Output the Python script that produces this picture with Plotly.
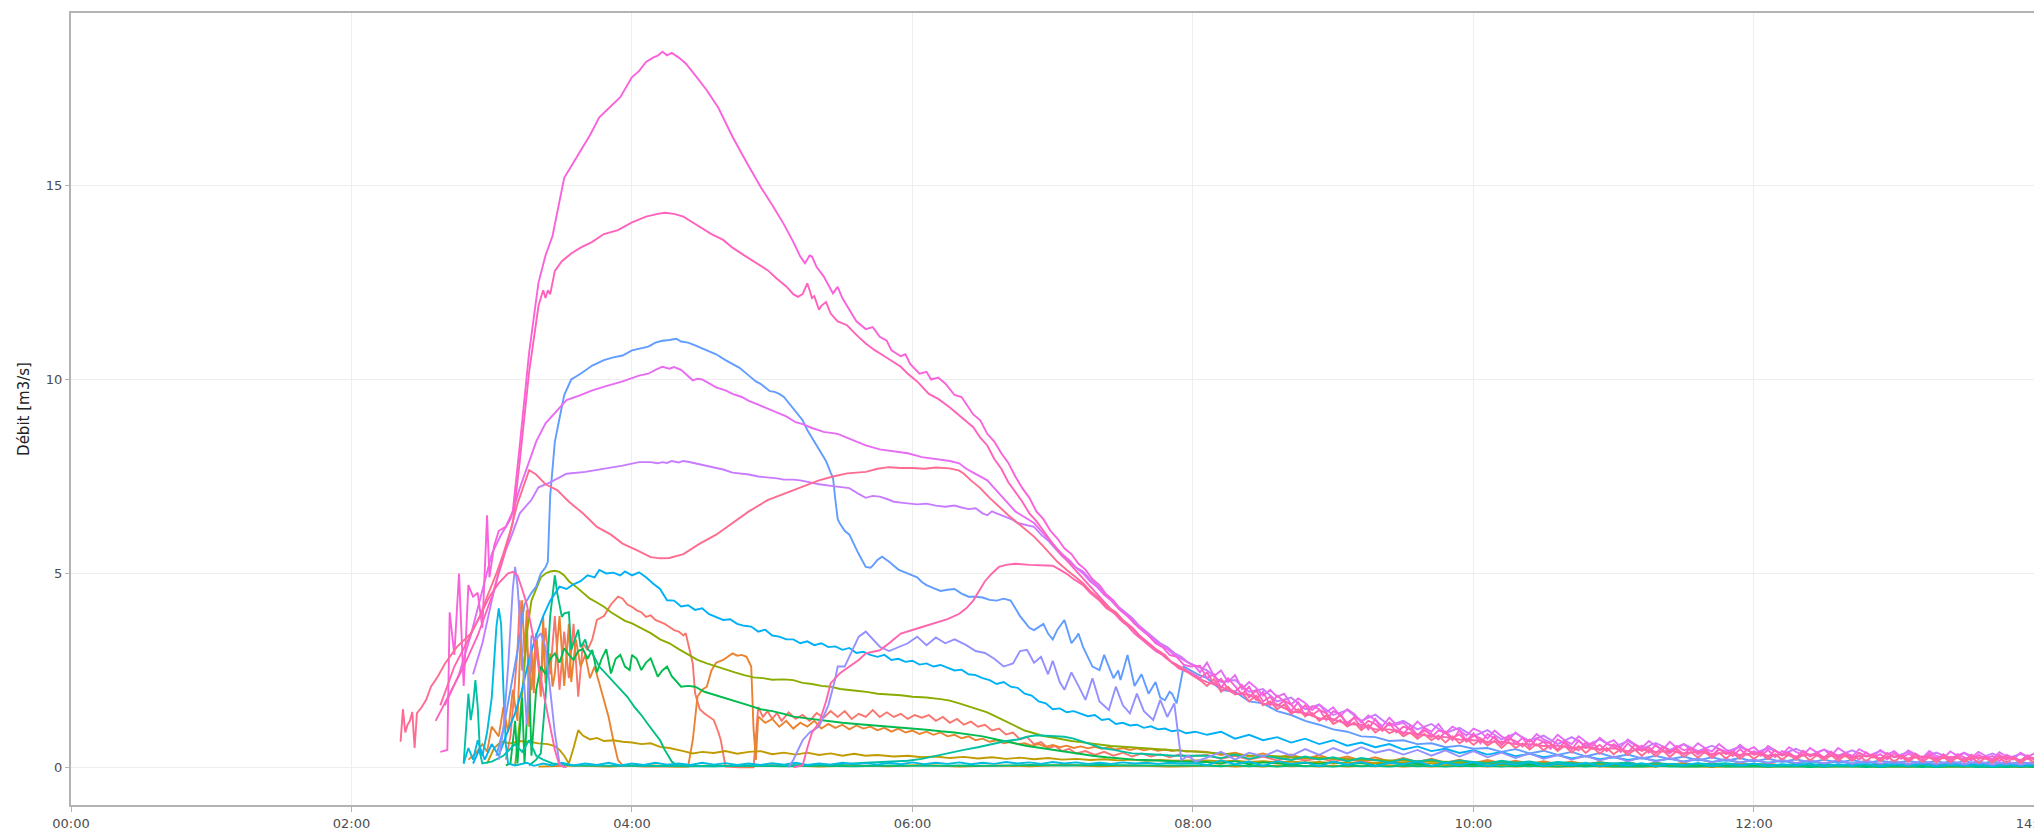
import pandas as pd
import plotly.graph_objects as go

# Discharge hydrographs, one line per gauging station.
# Head sections: (minute of day, discharge m3/s); tails: values on TAIL_T6 / TAIL_T3.
DAY = "2021-06-01"
TAIL_T6 = list(range(486, 859, 6))
TAIL_T3 = list(range(483, 859, 3))

s1_head = [(186,0.2),(188,0.8),(189,1.5),(191,3.0),(192,4.31),(193,2.5),(195,3.2),(197,2.0),(199,3.4),(201,2.2),(203,3.6),(205,2.4),(207,3.9),(209,2.0),(211,3.5),(213,2.3),(215,3.7),(217,1.82),(219,3.2),(221,3.03),(223,3.3),(225,3.8),(228,3.9),(231,4.2),(234,4.4),(236,4.35),(238,4.2),(240,4.14),(242,4.05),(244,4.0),(246,3.88),(248,3.92),(250,3.8),(252,3.75),(254,3.7),(256,3.62),(258,3.54),(260,3.5),(262,3.4),(263,3.46),(265,2.9),(266,2.68),(267,1.91),(269,1.5),(271,1.39),(273,1.3),(275,1.22),(277,0.9),(278,0.7),(280,0.02),(286,0.0),(292,0.0),(294,1.56),(296,1.3),(298,1.45),(300,1.25),(302,1.4),(304,1.2),(307,1.42),(310,1.25),(313,1.35),(316,1.2),(319,1.4),(322,1.28),(325,1.45),(328,1.3),(331,1.45),(334,1.25),(337,1.38),(340,1.3),(343,1.48),(346,1.3),(349,1.42),(352,1.3),(355,1.38),(358,1.25),(361,1.35),(364,1.28),(367,1.35),(370,1.2),(373,1.3),(376,1.15),(379,1.25),(382,1.1),(385,1.18),(388,1.05),(391,1.1),(394,0.95),(397,1.0),(400,0.85),(403,0.9),(406,0.72),(409,0.78),(412,0.6),(415,0.65),(418,0.5),(421,0.55),(424,0.42),(427,0.48),(430,0.36),(434,0.42),(438,0.32),(442,0.4),(446,0.3),(450,0.38),(454,0.28),(458,0.36),(462,0.28),(466,0.34),(470,0.26),(474,0.33),(478,0.27),(481,0.3)]
s1_tail = [.32,.22,.3,.2,.28,.18,.26,.17,.24,.15,.22,.14,.2,.13,.19,.12,.17,.11,.16,.1,.15,.1,.14,.09,.13,.08,.12,.08,.11,.07,.11,.07,.1,.06,.1,.06,.09,.06,.09,.05,.08,.05,.08,.05,.08,.04,.07,.04,.07,.04,.07,.04,.06,.04,.06,.03,.06,.03,.06,.03,.05,.03,.05]

o1_head = [(170,0.2),(173,0.35),(176,0.6),(178,0.4),(180,1.05),(183,0.8),(185,1.56),(187,0.9),(189,2.0),(191,1.2),(193,4.31),(194,2.94),(195,4.06),(196,1.05),(197,3.11),(198,1.91),(199,3.46),(201,1.82),(202,3.88),(203,2.17),(205,2.94),(206,2.08),(207,2.42),(209,3.9),(211,2.1),(213,3.7),(214,2.2),(216,3.3),(218,2.6),(220,2.9),(222,2.3),(224,2.6),(226,2.17),(228,1.74),(230,1.3),(232,0.7),(234,0.19),(236,0.05),(245,0.02),(255,0.03),(264,0.02),(266,0.7),(267,1.2),(268,1.82),(270,2.0),(272,2.08),(274,2.5),(276,2.7),(279,2.77),(281,2.85),(283,2.94),(285,2.88),(287,2.9),(289,2.85),(291,2.6),(292,1.0),(293,0.19),(294,1.31),(297,1.15),(300,1.25),(303,1.05),(306,1.2),(309,1.0),(312,1.15),(315,1.05),(318,1.2),(321,1.0),(324,1.12),(327,1.02),(330,1.1),(333,0.98),(336,1.08),(339,1.0),(342,1.05),(345,0.96),(348,1.02),(351,0.92),(354,1.0),(357,0.9),(360,0.95),(363,0.86),(366,0.92),(369,0.84),(372,0.9),(375,0.8),(378,0.84),(381,0.75),(384,0.8),(387,0.7),(390,0.74),(393,0.66),(396,0.7),(399,0.62),(402,0.66),(405,0.6),(408,0.62),(411,0.56),(414,0.6),(417,0.53),(420,0.58),(423,0.52),(426,0.56),(429,0.5),(432,0.54),(435,0.49),(438,0.53),(441,0.48),(444,0.52),(447,0.46),(450,0.5),(453,0.45),(456,0.49),(459,0.44),(462,0.48),(465,0.43),(468,0.46),(471,0.42),(474,0.45),(477,0.41),(481,0.42)]
o1_tail = [.4,.32,.38,.28,.36,.25,.33,.22,.31,.2,.28,.17,.26,.15,.24,.14,.22,.12,.2,.11,.19,.1,.17,.09,.16,.08,.15,.07,.14,.07,.13,.06,.12,.06,.12,.05,.11,.05,.1,.05,.1,.04,.09,.04,.09,.04,.08,.03,.08,.03,.08,.03,.07,.03,.07,.03,.07,.02,.06,.02,.06,.02,.06]

z1_head = [(200,0.02),(215,0.05),(230,0.02),(245,0.06),(260,0.02),(275,0.05),(290,0.03),(305,0.06),(320,0.02),(335,0.05),(350,0.03),(365,0.06),(380,0.02),(395,0.05),(410,0.03),(425,0.06),(440,0.03),(455,0.05),(470,0.02),(481,0.04)]
z1_tail = [.03,.05,.02,.04,.02,.05,.03,.04,.02,.05,.02,.04,.03,.05,.02,.04,.02,.04,.03,.04,.02,.04,.02,.04,.02,.03,.02,.04,.02,.03,.02,.03,.02,.04,.02,.03,.01,.03,.02,.03,.01,.03,.02,.03,.01,.03,.02,.03,.01,.02,.01,.03,.01,.02,.01,.03,.01,.02,.01,.02,.01,.02,.01]

l1_head = [(178,0.1),(181,0.5),(184,0.66),(188,0.62),(192,0.68),(196,0.66),(200,0.62),(204,0.6),(207,0.55),(209,0.45),(211,0.3),(213,0.1),(215,0.5),(217,0.96),(219,0.82),(222,0.72),(225,0.76),(228,0.68),(232,0.7),(236,0.66),(240,0.64),(244,0.6),(248,0.62),(252,0.53),(256,0.5),(259,0.45),(262,0.42),(266,0.36),(270,0.4),(275,0.37),(280,0.42),(285,0.35),(290,0.4),(295,0.42),(300,0.34),(305,0.38),(310,0.33),(315,0.38),(320,0.32),(325,0.36),(330,0.3),(335,0.35),(340,0.3),(345,0.32),(352,0.28),(358,0.3),(364,0.26),(370,0.28),(376,0.24),(382,0.27),(388,0.23),(394,0.26),(400,0.22),(406,0.25),(412,0.21),(418,0.24),(424,0.2),(430,0.22),(436,0.19),(442,0.21),(448,0.18),(454,0.2),(460,0.17),(466,0.19),(472,0.17),(481,0.18)]
l1_tail = [.18,.15,.17,.14,.16,.13,.15,.12,.14,.11,.13,.11,.12,.1,.12,.09,.11,.09,.1,.08,.1,.08,.09,.07,.09,.07,.08,.07,.08,.06,.08,.06,.07,.06,.07,.05,.07,.05,.06,.05,.06,.05,.06,.04,.06,.04,.05,.04,.05,.04,.05,.04,.05,.03,.05,.03,.04,.03,.04,.03,.04,.03,.04]

g1_head = [(190,0.05),(192,1.2),(194,2.6),(195,3.46),(197,4.3),(199,4.6),(201,4.9),(203,5.0),(205,5.05),(207,5.07),(209,5.04),(211,4.95),(213,4.8),(216,4.66),(219,4.5),(222,4.35),(225,4.25),(228,4.14),(231,4.0),(234,3.9),(237,3.78),(240,3.71),(244,3.58),(248,3.46),(252,3.3),(256,3.2),(260,3.05),(264,2.9),(268,2.77),(272,2.68),(276,2.6),(280,2.51),(284,2.45),(288,2.38),(292,2.32),(296,2.3),(300,2.26),(305,2.27),(309,2.25),(313,2.18),(317,2.15),(321,2.1),(325,2.08),(329,2.02),(333,2.0),(337,1.97),(341,1.94),(345,1.9),(350,1.88),(355,1.86),(360,1.82),(366,1.8),(372,1.76),(376,1.72),(380,1.65),(384,1.58),(388,1.5),(392,1.42),(396,1.3),(400,1.18),(404,1.05),(408,0.95),(412,0.88),(416,0.81),(420,0.77),(424,0.72),(428,0.68),(432,0.65),(436,0.62),(440,0.58),(445,0.55),(450,0.53),(455,0.51),(460,0.49),(465,0.47),(470,0.45),(475,0.42),(481,0.4)]
g1_tail = [.37,.35,.34,.31,.3,.28,.27,.25,.24,.22,.21,.2,.19,.18,.17,.16,.15,.15,.14,.13,.13,.12,.12,.11,.11,.1,.1,.1,.09,.09,.09,.08,.08,.08,.08,.07,.07,.07,.07,.07,.06,.06,.06,.06,.06,.06,.05,.05,.05,.05,.05,.05,.05,.05,.04,.04,.04,.04,.04,.04,.04,.04,.04]

g2_head = [(186,0.05),(188,0.1),(190,1.2),(191,0.1),(193,1.8),(194,0.1),(196,2.3),(197,0.3),(199,2.0),(201,2.6),(203,2.4),(205,2.8),(207,2.94),(209,2.7),(211,3.07),(213,2.9),(215,2.77),(217,3.0),(219,3.05),(221,2.8),(223,3.03),(225,2.45),(227,2.8),(229,3.05),(231,2.42),(233,2.8),(235,2.9),(237,2.6),(239,2.51),(240,2.9),(242,2.8),(244,2.51),(246,2.7),(248,2.81),(250,2.5),(251,2.34),(253,2.5),(255,2.6),(257,2.35),(259,2.2),(261,2.08),(264,2.1),(267,2.08),(271,1.95),(275,1.88),(280,1.78),(285,1.7),(290,1.6),(295,1.5),(300,1.45),(305,1.38),(309,1.31),(314,1.27),(319,1.23),(324,1.18),(330,1.15),(336,1.12),(342,1.09),(348,1.06),(354,1.04),(360,1.0),(366,0.97),(372,0.93),(378,0.9),(384,0.85),(390,0.8),(396,0.72),(403,0.62),(409,0.55),(415,0.5),(420,0.45),(425,0.4),(431,0.35),(437,0.3),(443,0.26),(450,0.22),(455,0.2),(460,0.19),(465,0.17),(470,0.16),(475,0.15),(481,0.14)]
g2_tail = [.14,.1,.16,.08,.13,.11,.06,.12,.09,.14,.07,.11,.05,.12,.08,.1,.04,.11,.07,.09,.04,.1,.06,.08,.03,.09,.06,.07,.03,.08,.05,.07,.02,.08,.05,.06,.02,.07,.04,.06,.02,.06,.04,.05,.02,.06,.03,.05,.01,.05,.03,.05,.01,.04,.03,.05,.01,.04,.02,.04,.01,.04,.02]

t1_head = [(196,0.05),(199,0.2),(201,0.36),(203,1.8),(205,3.9),(207,4.95),(208,4.5),(209,4.23),(210,3.88),(211,3.97),(213,4.0),(214,3.03),(215,3.2),(216,3.4),(217,3.55),(218,3.1),(220,3.3),(221,3.05),(223,2.94),(226,2.6),(229,2.4),(232,2.2),(235,2.0),(238,1.82),(241,1.56),(244,1.35),(247,1.1),(250,0.85),(252,0.7),(254,0.45),(255,0.36),(257,0.15),(259,0.06),(265,0.04),(275,0.03),(290,0.05),(305,0.03),(320,0.04),(335,0.03),(350,0.05),(365,0.04),(380,0.05),(395,0.04),(410,0.06),(425,0.05),(440,0.06),(455,0.05),(470,0.06),(481,0.05)]
t1_tail = [.05,.03,.06,.03,.05,.02,.05,.03,.04,.02,.05,.03,.04,.02,.05,.03,.04,.02,.04,.03,.04,.02,.04,.03,.04,.02,.04,.02,.04,.02,.03,.02,.04,.02,.03,.02,.04,.02,.03,.02,.03,.02,.03,.01,.03,.02,.03,.01,.03,.02,.03,.01,.03,.02,.03,.01,.02,.01,.03,.01,.02,.01,.02]

t2_head = [(168,0.1),(170,1.9),(171,1.22),(172,1.6),(173,2.25),(174,1.56),(175,0.36),(176,0.1),(180,0.15),(185,0.3),(190,0.6),(193,0.4),(196,0.7),(199,0.3),(202,0.2),(206,0.1),(215,0.05),(230,0.04),(250,0.03),(270,0.03),(290,0.04),(310,0.05),(325,0.07),(340,0.12),(350,0.14),(358,0.17),(364,0.22),(370,0.3),(376,0.38),(382,0.45),(388,0.52),(394,0.6),(400,0.68),(405,0.72),(409,0.79),(413,0.83),(418,0.81),(422,0.8),(425,0.79),(429,0.74),(433,0.66),(437,0.56),(441,0.5),(446,0.45),(450,0.4),(454,0.36),(458,0.35),(462,0.33),(467,0.32),(472,0.3),(477,0.31),(481,0.3)]
t2_tail = [.3,.24,.33,.22,.3,.25,.19,.28,.2,.26,.16,.24,.18,.13,.22,.15,.2,.12,.18,.14,.1,.17,.12,.15,.09,.14,.11,.08,.13,.1,.12,.07,.11,.09,.06,.1,.08,.11,.06,.09,.07,.05,.09,.06,.08,.04,.08,.06,.05,.08,.05,.07,.04,.07,.05,.03,.06,.05,.06,.03,.06,.04,.05]

c1_head = [(168,0.1),(170,0.5),(172,0.2),(174,0.7),(176,0.3),(178,0.9),(180,1.8),(181,2.6),(182,3.63),(183,4.1),(184,3.7),(185,2.0),(186,0.6),(187,0.1),(190,0.05),(195,0.12),(198,0.04),(202,0.1),(206,0.05),(210,0.12),(215,0.05),(220,0.1),(225,0.06),(230,0.12),(235,0.05),(240,0.1),(245,0.06),(250,0.12),(255,0.07),(260,0.1),(265,0.06),(270,0.12),(275,0.07),(280,0.11),(285,0.06),(290,0.1),(295,0.06),(300,0.11),(305,0.07),(310,0.12),(315,0.06),(320,0.1),(325,0.07),(330,0.12),(335,0.08),(340,0.11),(345,0.07),(350,0.12),(355,0.08),(360,0.13),(365,0.08),(370,0.12),(375,0.09),(380,0.13),(385,0.08),(390,0.12),(395,0.09),(400,0.14),(405,0.1),(410,0.13),(415,0.09),(420,0.14),(425,0.1),(430,0.13),(435,0.09),(440,0.12),(445,0.09),(450,0.13),(455,0.1),(460,0.12),(465,0.09),(470,0.12),(475,0.1),(481,0.11)]
c1_tail = [.06,.18,.08,.15,.04,.16,.09,.13,.03,.15,.07,.14,.03,.12,.08,.15,.04,.12,.06,.13,.03,.11,.07,.13,.04,.1,.06,.12,.03,.1,.05,.11,.03,.09,.06,.11,.03,.09,.05,.1,.03,.08,.05,.1,.02,.08,.04,.09,.02,.08,.04,.09,.02,.07,.04,.08,.02,.07,.03,.08,.02,.07,.03]

b2_head = [(172,0.1),(175,0.5),(177,0.2),(180,0.6),(183,0.3),(186,0.8),(190,1.4),(193,2.0),(196,2.8),(199,3.4),(202,3.9),(205,4.3),(209,4.66),(212,4.6),(215,4.72),(218,4.8),(221,4.95),(224,4.9),(226,5.09),(229,5.0),(232,5.02),(235,4.95),(237,5.05),(240,4.95),(243,5.03),(246,4.9),(249,4.74),(252,4.6),(255,4.31),(258,4.3),(261,4.15),(264,4.18),(267,4.06),(270,4.1),(273,3.95),(276,3.88),(279,3.8),(282,3.82),(285,3.7),(288,3.65),(291,3.63),(294,3.5),(297,3.55),(300,3.4),(303,3.37),(306,3.3),(309,3.3),(312,3.2),(315,3.25),(318,3.15),(321,3.2),(324,3.1),(327,3.12),(330,3.03),(333,3.08),(336,2.95),(339,2.98),(342,2.9),(345,2.85),(348,2.9),(351,2.77),(354,2.8),(357,2.72),(360,2.75),(363,2.65),(366,2.68),(369,2.6),(372,2.64),(375,2.58),(378,2.5),(381,2.52),(384,2.4),(387,2.38),(390,2.3),(393,2.25),(396,2.15),(399,2.2),(402,2.08),(405,2.05),(408,1.9),(411,1.85),(414,1.7),(417,1.65),(420,1.5),(423,1.52),(426,1.42),(429,1.45),(432,1.38),(435,1.32),(438,1.35),(441,1.22),(444,1.25),(447,1.12),(450,1.15),(453,1.08),(456,1.1),(459,1.02),(462,1.06),(465,0.98),(468,1.0),(471,0.93),(474,0.96),(477,0.88),(481,0.92)]
b2_tail = [.84,.92,.74,.84,.7,.78,.64,.74,.6,.7,.56,.64,.52,.6,.46,.54,.42,.48,.37,.44,.33,.4,.29,.35,.26,.32,.23,.29,.21,.26,.19,.24,.17,.22,.15,.21,.14,.19,.13,.18,.12,.17,.11,.16,.1,.15,.1,.14,.09,.14,.09,.13,.08,.12,.08,.12,.07,.11,.07,.11,.07,.1,.07]

b1_head = [(182,0.3),(185,1.0),(188,2.0),(191,3.0),(194,4.2),(197,4.5),(199,4.66),(201,5.0),(203,5.16),(204,5.3),(205,7.0),(207,8.4),(209,9.0),(211,9.6),(214,10.0),(218,10.15),(223,10.36),(228,10.5),(232,10.57),(236,10.62),(240,10.75),(243,10.79),(247,10.85),(250,10.95),(253,11.0),(256,11.02),(259,11.05),(261,10.98),(264,10.95),(267,10.88),(269,10.83),(272,10.75),(276,10.65),(280,10.5),(283,10.41),(286,10.3),(290,10.1),(293,9.95),(295,9.89),(297,9.8),(299,9.7),(301,9.68),(303,9.63),(305,9.55),(307,9.4),(310,9.2),(313,8.95),(315,8.7),(317,8.5),(319,8.33),(321,8.1),(323,7.9),(325,7.6),(326,7.47),(327,6.9),(328,6.4),(329,6.28),(331,6.1),(333,6.0),(335,5.75),(337,5.5),(340,5.17),(342,5.15),(343,5.2),(345,5.35),(347,5.43),(349,5.35),(350,5.3),(352,5.2),(354,5.1),(356,5.05),(358,5.0),(360,4.95),(362,4.9),(364,4.78),(366,4.7),(369,4.62),(372,4.55),(375,4.58),(378,4.6),(381,4.48),(384,4.4),(387,4.4),(390,4.38),(393,4.32),(396,4.3),(399,4.35),(402,4.3),(404,4.1),(406,3.9),(408,3.75),(410,3.6),(412,3.54),(414,3.62),(416,3.7),(418,3.45),(420,3.3),(422,3.55),(425,3.8),(427,3.4),(428,3.2),(430,3.35),(431,3.45),(433,3.1),(435,2.85),(437,2.6),(440,2.51),(442,2.9),(444,2.6),(446,2.3),(448,2.5),(449,2.25),(452,2.9),(454,2.4),(455,2.1),(458,2.4),(460,2.1),(461,1.9),(464,2.2),(466,1.8),(468,1.73),(470,1.95),(471,1.9),(473,1.65),(476,2.6),(479,2.5),(482,2.4)]
b1_tail = [2.3,2.0,1.95,1.7,1.65,1.45,1.35,1.2,1.1,.98,.92,.8,.78,.68,.7,.6,.62,.52,.56,.48,.5,.4,.47,.36,.43,.32,.4,.28,.37,.26,.33,.23,.3,.21,.28,.18,.26,.17,.24,.15,.23,.14,.21,.13,.2,.12,.19,.11,.18,.1,.17,.1,.16,.09,.16,.09,.15,.08,.14,.08,.14,.07,.13]

l2_head = [(183,0.2),(185,1.0),(187,2.6),(189,4.6),(190,5.17),(191,4.7),(193,3.0),(195,1.1),(197,3.4),(199,3.3),(201,3.46),(203,3.1),(205,2.0),(207,0.88),(209,0.1),(211,0.0),(240,None),(307,0.0),(309,0.19),(313,0.7),(316,0.9),(320,1.05),(324,1.6),(327,2.3),(328,2.6),(331,2.6),(334,3.0),(337,3.37),(340,3.5),(343,3.3),(346,3.11),(350,3.0),(354,3.1),(358,3.2),(362,3.37),(366,3.15),(370,3.35),(374,3.2),(378,3.3),(383,3.15),(387,3.0),(391,2.95),(395,2.8),(399,2.6),(403,2.68),(406,3.0),(409,3.03),(412,2.7),(415,2.85),(418,2.4),(420,2.75),(423,2.2),(425,2.0),(428,2.45),(431,2.1),(434,1.74),(437,2.3),(440,1.7),(444,1.48),(447,2.08),(450,1.6),(453,1.39),(456,1.9),(459,1.45),(463,1.22),(466,1.74),(469,1.3),(472,1.65),(475,0.19),(478,0.3),(481,0.15)]
l2_tail = [.25,.4,.2,.38,.28,.44,.3,.47,.32,.5,.36,.52,.38,.46,.33,.45,.3,.44,.28,.42,.26,.38,.24,.36,.22,.32,.2,.3,.18,.28,.16,.26,.15,.24,.14,.23,.13,.22,.12,.21,.11,.2,.11,.19,.1,.19,.09,.18,.09,.17,.08,.17,.08,.16,.08,.16,.07,.15,.07,.15,.07,.14,.07]

p4_head = [(172,2.4),(176,3.2),(180,4.3),(184,5.3),(188,5.9),(192,6.55),(197,6.9),(200,7.22),(205,7.35),(212,7.57),(220,7.62),(229,7.7),(236,7.78),(243,7.87),(248,7.87),(251,7.84),(253,7.87),(255,7.85),(257,7.9),(260,7.86),(262,7.9),(264,7.88),(267,7.84),(269,7.82),(272,7.78),(275,7.75),(279,7.68),(283,7.6),(287,7.58),(290,7.55),(294,7.5),(298,7.48),(302,7.45),(305,7.42),(309,7.42),(312,7.4),(316,7.35),(320,7.3),(326,7.25),(333,7.2),(337,7.05),(340,6.95),(343,7.0),(346,6.98),(350,6.9),(352,6.85),(356,6.82),(362,6.78),(366,6.8),(370,6.75),(374,6.72),(378,6.75),(381,6.7),(384,6.66),(387,6.68),(390,6.55),(392,6.5),(394,6.6),(396,6.55),(398,6.5),(400,6.45),(403,6.38),(405,6.3),(409,6.25),(412,6.2),(415,6.0),(418,5.85),(421,5.65),(424,5.45),(427,5.3),(430,5.15),(433,5.05),(436,4.85),(439,4.7),(442,4.5),(445,4.35),(448,4.15),(451,4.0),(454,3.85),(457,3.65),(460,3.5),(463,3.35),(466,3.2),(469,3.1),(472,2.95),(475,2.85),(478,2.7),(482,2.6)]
p4_tail = [2.5,2.2,2.25,1.95,2.02,1.7,1.8,1.5,1.62,1.35,1.48,1.2,1.36,1.08,1.2,.98,1.12,.88,1.02,.8,.96,.72,.88,.68,.82,.6,.78,.56,.72,.52,.68,.48,.63,.45,.6,.42,.56,.4,.53,.36,.5,.34,.48,.31,.46,.3,.44,.28,.42,.26,.4,.25,.38,.23,.37,.22,.36,.21,.35,.2,.33,.19,.32]

p3_head = [(160,1.6),(166,2.4),(171,3.4),(176,4.6),(180,5.5),(184,6.0),(188,6.4),(192,7.2),(195,7.7),(199,8.4),(203,8.87),(208,9.2),(212,9.47),(218,9.6),(223,9.72),(230,9.85),(236,9.95),(243,10.1),(247,10.15),(250,10.25),(253,10.33),(256,10.28),(258,10.32),(261,10.25),(264,10.1),(266,9.98),(268,10.02),(270,10.0),(273,9.9),(276,9.8),(280,9.72),(283,9.63),(287,9.55),(290,9.45),(294,9.35),(298,9.25),(302,9.15),(306,9.05),(310,8.9),(313,8.85),(317,8.75),(322,8.65),(328,8.6),(334,8.45),(340,8.3),(346,8.2),(352,8.15),(358,8.1),(364,8.0),(370,7.95),(376,7.9),(380,7.84),(383,7.7),(386,7.6),(389,7.5),(392,7.4),(395,7.2),(398,7.0),(401,6.8),(404,6.6),(408,6.45),(412,6.3),(415,6.1),(418,5.9),(421,5.7),(424,5.5),(427,5.35),(430,5.15),(433,5.0),(436,4.8),(439,4.65),(442,4.45),(445,4.3),(448,4.1),(451,3.95),(454,3.8),(457,3.6),(460,3.45),(463,3.3),(466,3.15),(469,3.05),(472,2.9),(475,2.8),(478,2.7),(481,2.6)]
p3_tail = [2.45,2.7,2.35,2.5,2.2,2.38,2.02,2.2,2.05,1.85,
           2.0,1.82,1.9,1.62,1.78,1.66,1.48,1.62,1.42,1.55,
           1.32,1.5,1.38,1.16,1.34,1.22,1.06,1.28,1.1,1.15,
           .98,1.18,1.02,.92,1.12,.88,1.05,.95,.82,1.0,
           .92,.74,.95,.8,.7,.9,.76,.66,.86,.72,
           .64,.84,.7,.6,.8,.66,.56,.76,.62,.7,
           .52,.72,.6,.5,.68,.55,.46,.66,.5,.6,
           .44,.62,.5,.41,.6,.46,.4,.58,.44,.52,
           .36,.55,.44,.33,.52,.4,.32,.5,.38,.46,
           .3,.5,.38,.28,.47,.36,.27,.45,.33,.42,
           .26,.44,.34,.24,.42,.3,.23,.41,.3,.38,
           .24,.4,.3,.21,.39,.28,.2,.38,.27,.36,
           .21,.37,.27,.19,.36,.26]

p1_head = [(158,0.4),(161,0.45),(162,4.0),(164,2.9),(166,5.0),(168,2.1),(170,4.7),(172,4.4),(174,4.5),(176,3.6),(178,6.5),(179,4.9),(181,5.7),(183,6.1),(186,6.2),(189,6.6),(192,8.3),(196,10.7),(200,12.5),(203,13.2),(206,13.7),(209,14.6),(211,15.2),(214,15.5),(218,15.9),(222,16.3),(226,16.76),(230,17.0),(235,17.28),(240,17.8),(243,17.95),(246,18.19),(249,18.3),(251,18.35),(253,18.45),(255,18.36),(257,18.42),(260,18.3),(263,18.15),(267,17.85),(272,17.46),(277,17.0),(283,16.26),(289,15.6),(295,14.97),(300,14.5),(305,14.0),(309,13.55),(312,13.17),(314,13.0),(316,13.2),(317,13.17),(319,12.9),(322,12.66),(324,12.45),(326,12.22),(328,12.39),(330,12.1),(333,11.8),(336,11.5),(340,11.3),(343,11.35),(346,11.1),(349,11.0),(351,10.75),(355,10.6),(357,10.65),(359,10.4),(363,10.15),(366,10.2),(368,10.0),(371,10.05),(374,9.9),(378,9.6),(381,9.55),(383,9.38),(386,9.1),(389,8.95),(392,8.6),(395,8.4),(398,8.1),(401,7.85),(404,7.5),(407,7.2),(410,6.95),(413,6.6),(416,6.4),(419,6.1),(422,5.9),(425,5.65),(428,5.5),(431,5.25),(434,5.1),(437,4.85),(440,4.7),(443,4.45),(446,4.3),(449,4.05),(452,3.9),(455,3.7),(458,3.55),(461,3.4),(464,3.2),(467,3.1),(470,2.9),(473,2.85),(476,2.65),(479,2.6)]
p1_tail = [2.62,2.3,2.4,2.05,2.3,2.1,1.88,2.08,1.75,1.95,
           1.6,1.85,1.7,1.45,1.68,1.32,1.58,1.5,1.22,1.45,
           1.38,1.08,1.3,1.2,.98,1.25,.95,1.15,1.05,.85,
           1.08,.82,1.02,.78,.95,.9,.7,.96,.68,.88,
           .62,.86,.75,.58,.82,.6,.76,.52,.74,.66,
           .48,.72,.62,.45,.7,.5,.64,.44,.6,.56,
           .4,.62,.46,.56,.38,.58,.42,.36,.55,.44,
           .5,.33,.48,.3,.46,.4,.29,.47,.32,.42,
           .3,.45,.26,.42,.35,.24,.43,.28,.38,.25,
           .4,.22,.36,.3,.2,.39,.25,.34,.2,.37,
           .22,.35,.28,.18,.36,.24,.31,.17,.34,.26,
           .18,.33,.22,.3,.16,.32,.25,.17,.31,.2,
           .28,.16,.3,.22,.15,.29]

p2_head = [(156,1.2),(162,1.9),(168,2.6),(174,3.4),(180,4.4),(185,5.4),(189,6.3),(192,7.9),(196,10.2),(200,11.9),(202,12.3),(203,12.1),(204,12.3),(205,12.2),(207,12.8),(210,13.05),(214,13.25),(218,13.4),(223,13.55),(228,13.75),(234,13.85),(240,14.05),(246,14.2),(251,14.27),(254,14.3),(258,14.27),(262,14.2),(266,14.05),(269,13.94),(274,13.75),(279,13.6),(283,13.4),(288,13.2),(293,13.0),(298,12.82),(302,12.6),(306,12.4),(309,12.2),(311,12.13),(313,12.2),(315,12.48),(316,12.3),(317,12.1),(318,12.15),(319,11.95),(320,11.8),(321,11.9),(323,12.0),(325,11.7),(328,11.5),(332,11.4),(336,11.15),(340,10.93),(344,10.75),(348,10.6),(352,10.45),(355,10.33),(358,10.15),(362,9.95),(367,9.63),(371,9.5),(376,9.28),(381,9.02),(386,8.77),(389,8.5),(392,8.3),(395,7.95),(398,7.7),(401,7.35),(404,7.1),(407,6.85),(410,6.55),(413,6.35),(416,6.1),(419,5.85),(422,5.6),(425,5.4),(428,5.2),(431,5.0),(434,4.8),(437,4.6),(440,4.4),(443,4.2),(446,4.0),(449,3.8),(452,3.65),(455,3.45),(458,3.3),(461,3.15),(464,3.0),(467,2.9),(470,2.75),(473,2.65),(476,2.55),(479,2.45)]
p2_tail = [2.3,2.45,2.15,2.28,2.02,1.95,2.12,1.8,1.98,1.7,
           1.82,1.58,1.72,1.62,1.42,1.6,1.35,1.48,1.4,1.2,
           1.35,1.15,1.28,1.02,1.2,1.12,.95,1.15,.9,1.05,
           .98,.8,.95,.86,.72,.92,.76,.85,.66,.82,
           .75,.62,.8,.58,.74,.68,.54,.72,.56,.66,
           .62,.46,.66,.52,.44,.64,.48,.58,.42,.6,
           .5,.38,.58,.42,.52,.36,.54,.4,.48,.34,
           .5,.36,.44,.3,.48,.34,.42,.28,.46,.32,
           .4,.27,.44,.3,.38,.24,.42,.3,.36,.23,
           .4,.26,.36,.22,.38,.28,.34,.2,.37,.26,
           .32,.19,.36,.24,.3,.18,.34,.22,.3,.17,
           .33,.22,.28,.16,.32,.2,.27,.15,.31,.2,
           .26,.14,.3,.2,.25,.14]

p5_head = [(141,0.66),(142,1.5),(143,0.9),(144,1.1),(145,1.2),(146,1.43),(147,0.5),(148,1.4),(150,1.55),(152,1.75),(154,2.08),(157,2.35),(160,2.68),(165,3.1),(171,3.45),(175,3.9),(178,4.4),(182,5.0),(185,5.52),(188,6.1),(191,6.8),(194,7.3),(196,7.66),(199,7.55),(203,7.3),(208,7.15),(213,6.85),(219,6.55),(225,6.2),(231,6.0),(236,5.77),(242,5.6),(248,5.42),(252,5.39),(256,5.4),(262,5.5),(269,5.77),(276,6.0),(283,6.3),(290,6.6),(298,6.89),(305,7.05),(312,7.23),(320,7.4),(326,7.5),(332,7.58),(340,7.62),(345,7.7),(350,7.74),(355,7.72),(360,7.72),(365,7.7),(370,7.73),(376,7.71),(380,7.65),(382,7.57),(385,7.4),(389,7.2),(393,6.95),(397,6.72),(401,6.5),(405,6.3),(409,6.1),(412,5.95),(416,5.7),(419,5.5),(422,5.3),(426,5.09),(429,4.95),(433,4.75),(436,4.55),(440,4.35),(443,4.15),(447,4.0),(450,3.8),(454,3.6),(457,3.4),(461,3.2),(464,3.05),(468,2.9),(471,2.7),(474,2.6),(478,2.45)]
p5_tail = [2.25,2.1,2.28,1.95,2.08,1.88,1.92,1.7,1.85,1.6,
           1.7,1.5,1.62,1.38,1.5,1.32,1.4,1.2,1.34,1.12,
           1.22,1.05,1.16,.96,1.1,.9,1.02,.88,.96,.8,
           .9,.74,.86,.7,.82,.64,.8,.62,.74,.58,
           .72,.56,.68,.5,.66,.5,.62,.46,.6,.44,
           .58,.42,.56,.38,.55,.37,.52,.35,.5,.34,
           .48,.32,.46,.3,.45,.29,.44,.27,.42,.27,
           .4,.25,.4,.24,.38,.23,.37,.22,.36,.22,
           .35,.21,.34,.2,.33,.19,.33,.18,.32,.18,
           .32,.17,.31,.17,.3,.16,.3,.15,.29,.15,
           .28,.14,.28,.14,.27,.13,.27,.13,.26,.13,
           .26,.12,.25,.12,.25,.12,.24,.11,.24,.11,
           .24,.11,.23,.1,.23,.1]

p6_head = [(158,1.6),(164,2.6),(170,3.3),(175,3.9),(179,4.4),(183,4.75),(187,5.0),(189,5.04),(191,4.95),(193,4.6),(195,4.2),(197,3.6),(199,2.9),(201,2.3),(203,1.65),(205,1.0),(207,0.45),(209,0.05),(212,0.0),(240,None),(309,0.0),(313,0.05),(315,0.5),(317,0.9),(320,1.14),(323,1.7),(325,2.17),(329,2.43),(333,2.6),(337,2.77),(340,2.94),(343,2.98),(346,3.02),(350,3.2),(355,3.45),(362,3.58),(369,3.7),(375,3.82),(380,3.96),(383,4.1),(386,4.3),(389,4.6),(391,4.8),(394,5.0),(397,5.17),(400,5.22),(404,5.25),(410,5.22),(416,5.2),(420,5.2),(423,5.1),(426,4.99),(429,4.85),(433,4.7),(436,4.5),(440,4.3),(443,4.1),(447,3.95),(450,3.75),(454,3.6),(457,3.4),(461,3.2),(464,3.05),(468,2.85),(471,2.7),(474,2.55),(478,2.45),(482,2.3)]
p6_tail = [2.2,2.08,1.9,1.88,1.64,1.62,1.44,1.4,1.26,1.24,1.12,1.1,.98,.98,.9,.86,.8,.78,.72,.7,.66,.66,.6,.6,.55,.56,.5,.52,.46,.49,.42,.46,.4,.43,.36,.41,.34,.38,.32,.36,.3,.34,.28,.33,.27,.31,.26,.3,.24,.29,.23,.28,.22,.27,.21,.26,.2,.26,.19,.25,.19,.24,.18]

# drawing order, colours and tail sampling grid of each station
SERIES = [
    ("station 01", "#F8766D", s1_head, s1_tail, TAIL_T6),
    ("station 02", "#EA8331", o1_head, o1_tail, TAIL_T6),
    ("station 03", "#D89000", z1_head, z1_tail, TAIL_T6),
    ("station 04", "#C09B00", l1_head, l1_tail, TAIL_T6),
    ("station 05", "#8AAC00", g1_head, g1_tail, TAIL_T6),
    ("station 06", "#00BB4E", g2_head, g2_tail, TAIL_T6),
    ("station 07", "#00BF7D", t1_head, t1_tail, TAIL_T6),
    ("station 08", "#00C1A3", t2_head, t2_tail, TAIL_T6),
    ("station 09", "#00BAE0", c1_head, c1_tail, TAIL_T6),
    ("station 10", "#00B0F6", b2_head, b2_tail, TAIL_T6),
    ("station 11", "#619CFF", b1_head, b1_tail, TAIL_T6),
    ("station 12", "#9590FF", l2_head, l2_tail, TAIL_T6),
    ("station 13", "#C77CFF", p4_head, p4_tail, TAIL_T6),
    ("station 14", "#E76BF3", p3_head, p3_tail, TAIL_T3),
    ("station 15", "#FA62DB", p1_head, p1_tail, TAIL_T3),
    ("station 16", "#FF62BC", p2_head, p2_tail, TAIL_T3),
    ("station 17", "#FF6C91", p5_head, p5_tail, TAIL_T3),
    ("station 18", "#FF64AC", p6_head, p6_tail, TAIL_T6),
]

base = pd.Timestamp(DAY)


def to_time(minutes):
    return [base + pd.Timedelta(minutes=m) for m in minutes]


fig = go.Figure()
for name, color, head, tail, grid in SERIES:
    minutes = [m for m, _ in head] + grid[:len(tail)]
    values = [q for _, q in head] + list(tail)
    fig.add_trace(go.Scatter(
        x=to_time(minutes), y=values, mode="lines", name=name,
        line=dict(color=color, width=1.9), connectgaps=False,
        showlegend=False, hoverinfo="x+y+name",
    ))

AXIS_GREY = "#b3b3b3"
GRID = "#eeeeee"
FONT = "DejaVu Sans"

fig.update_layout(
    width=2100, height=835,
    margin=dict(l=71, r=30, t=13, b=30, autoexpand=False),
    paper_bgcolor="white", plot_bgcolor="white",
    font=dict(family=FONT, size=13, color="#4d4d4d"),
    showlegend=False,
)
fig.update_xaxes(
    type="date",
    range=[base, base + pd.Timedelta(minutes=855.2)],
    tickformat="%H:%M", dtick=2 * 3600 * 1000, tick0=base,
    showgrid=True, gridcolor=GRID, gridwidth=1, zeroline=False,
    showline=True, linecolor=AXIS_GREY, linewidth=2, mirror=True,
    ticks="outside", ticklen=5, tickcolor=AXIS_GREY, tickwidth=1,
    tickfont=dict(family=FONT, size=13, color="#4d4d4d"),
    automargin=False,
)
fig.update_yaxes(
    range=[-0.97, 19.45], tickvals=[0, 5, 10, 15],
    showgrid=True, gridcolor=GRID, gridwidth=1, zeroline=False,
    showline=True, linecolor=AXIS_GREY, linewidth=2, mirror=True,
    ticks="outside", ticklen=4, tickcolor=AXIS_GREY, tickwidth=1,
    tickfont=dict(family=FONT, size=13, color="#4d4d4d"),
    title=dict(text="Débit [m3/s]", font=dict(family=FONT, size=15, color="#222222"), standoff=13),
    automargin=False,
)

fig.write_html(
    "out.html",
    config={"displayModeBar": False},
    post_script="document.body.style.margin='0';document.body.style.overflow='hidden';document.documentElement.style.overflow='hidden';",
)
